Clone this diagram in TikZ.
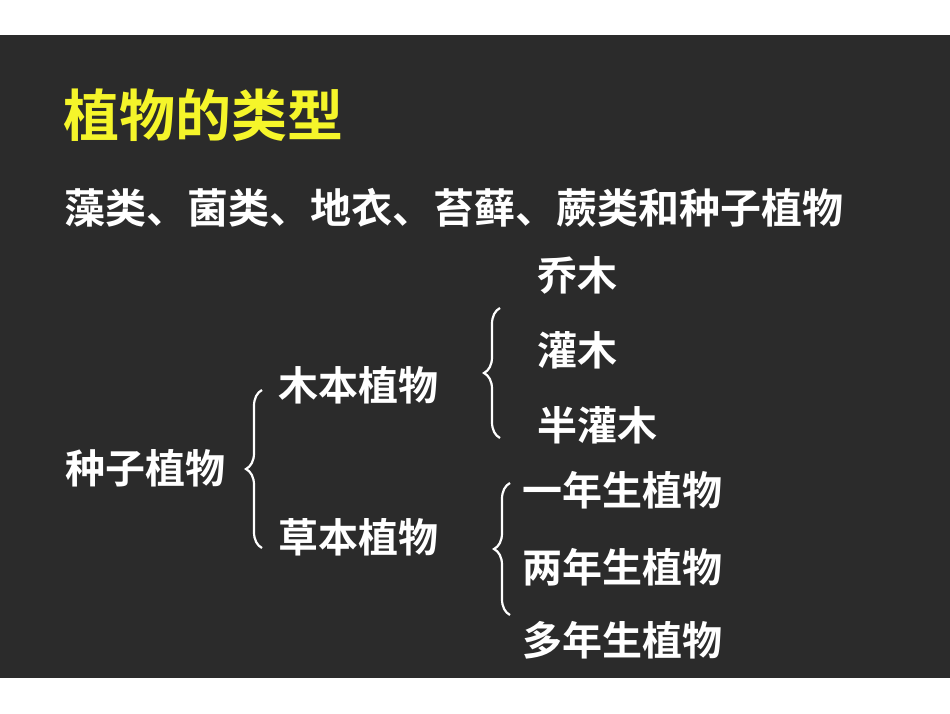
\documentclass[tikz,border=0pt]{standalone}
\usepackage{fontspec}
\setmainfont{Noto Sans CJK SC}[BoldFont={* Bold}]
\usetikzlibrary{decorations.pathreplacing}
\definecolor{bg}{HTML}{2B2B2B}
\definecolor{ttl}{HTML}{F5F52A}
\tikzset{
  txt/.style={anchor=west,inner sep=0pt,text=white,font=\bfseries\fontsize{40}{44}\selectfont},
  brc/.style={draw=white,line width=2.2pt,decorate,decoration={brace,amplitude=16pt}}
}
\begin{document}
\begin{tikzpicture}[x=1pt,y=-1pt]
\useasboundingbox (0,0) rectangle (950,713);
\fill[white] (0,0) rectangle (950,713);
\fill[bg] (0,35) rectangle (950,678);
\node[txt,text=ttl,font=\bfseries\fontsize{56}{60}\selectfont] (title) at (63,115) {植物的类型};
\node[txt,font=\bfseries\fontsize{41}{44}\selectfont] (list) at (64,208) {藻类、菌类、地衣、苔藓、蕨类和种子植物};
\node[txt] (zz) at (65,468) {种子植物};
\node[txt] (mb) at (278,385) {木本植物};
\node[txt] (cb) at (278,537) {草本植物};
\node[txt] (qm) at (537,275) {乔木};
\node[txt] (gm) at (537,350) {灌木};
\node[txt] (bgm) at (537,425) {半灌木};
\node[txt] (y1) at (522,490) {一年生植物};
\node[txt] (y2) at (522,567) {两年生植物};
\node[txt] (y3) at (522,640) {多年生植物};
\coordinate (b1a) at (262,548); \coordinate (b1b) at (262,390);
\coordinate (b2a) at (500,438); \coordinate (b2b) at (500,308);
\coordinate (b3a) at (510,615); \coordinate (b3b) at (510,483);
\draw[brc] (b1a) -- (b1b);
\draw[brc] (b2a) -- (b2b);
\draw[brc] (b3a) -- (b3b);
\end{tikzpicture}
\end{document}
